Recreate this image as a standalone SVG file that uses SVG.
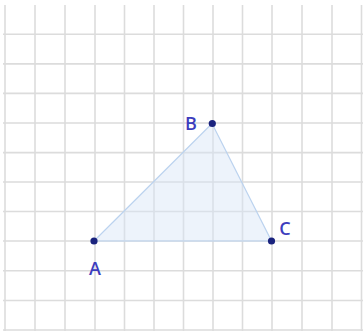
<svg xmlns="http://www.w3.org/2000/svg" width="363" height="332" viewBox="0 0 363 332">
<style>
.g{stroke:#dcdcdc;stroke-width:1.6;fill:none}
.tri{fill:#d6e4f7;fill-opacity:0.45;stroke:#bcd3ef;stroke-width:1.2}
.pt{fill:#1a237e}
.lb{font-family:"Open Sans","Liberation Sans",sans-serif;font-size:18px;font-weight:600;fill:#3d3dbd}
</style>
<rect width="363" height="332" fill="#ffffff"/>
<g id="grid" class="g">
<path d="M5 5V331M35 5V331M65 5V331M95 5V331M124.5 5V331M154 5V331M183.5 5V331M213 5V331M242.5 5V331M272 5V331M302 5V331M332 5V331M361.5 5V331"/>
<path d="M3 34.3H363M3 63.9H363M3 93.4H363M3 123H363M3 152.6H363M3 182H363M3 211.5H363M3 241H363M3 270.7H363M3 300.5H363M3 330H363"/>
</g>
<g id="connectors">
<polygon class="tri" points="94,241 212,123.5 271.5,241"/>
</g>
<g id="A"><circle class="pt" cx="94" cy="241" r="3.6"/><text class="lb" x="95" y="275" text-anchor="middle">A</text></g>
<g id="B"><circle class="pt" cx="212.3" cy="123.5" r="3.6"/><text class="lb" x="191" y="130" text-anchor="middle">B</text></g>
<g id="C"><circle class="pt" cx="271.5" cy="241" r="3.6"/><text class="lb" x="285" y="235" text-anchor="middle">C</text></g>
</svg>
